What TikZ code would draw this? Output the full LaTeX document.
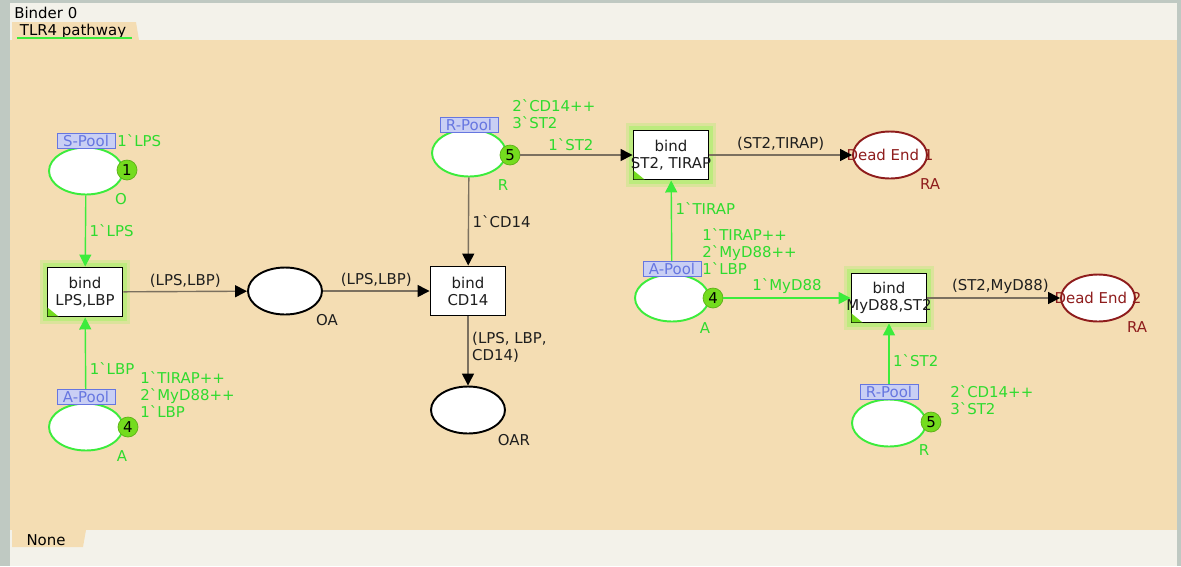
\documentclass[tikz,border=0pt]{standalone}
\usepackage{fontspec}
\setmainfont{DejaVu Sans}
\usepackage{tikz}
\usetikzlibrary{
  arrows.meta,
  positioning,
  shapes.geometric,
  backgrounds
}
\definecolor{CanvasTan}{HTML}{F4DDB3}
\definecolor{ChromeGray}{HTML}{BFC9C2}
\definecolor{ChromeLight}{HTML}{F3F2EA}
\definecolor{PoolGreen}{HTML}{3CEC3C}
\definecolor{InscrGreen}{HTML}{2EDB2E}
\definecolor{TokenGreen}{HTML}{74DC1E}
\definecolor{GlowGreen}{HTML}{BDEB7E}
\definecolor{TagFill}{HTML}{C9CFF4}
\definecolor{TagBlue}{HTML}{6676E0}
\definecolor{ArcGray}{HTML}{7B705F}
\definecolor{DeadRed}{HTML}{8E1C1C}
\definecolor{TextDark}{HTML}{1E1E1E}
\newcommand{\bkq}{\textasciigrave}
\tikzset{
  place/.style={
    ellipse,
    draw=black,
    line width=1.1pt,
    fill=white,
    minimum width=1.48cm,
    minimum height=0.94cm,
    inner sep=0pt
  },
  pool/.style={
    place,
    draw=PoolGreen
  },
  deadend/.style={
    place,
    draw=DeadRed,
    text=DeadRed
  },
  transbox/.style={
    draw=black,
    line width=1.1pt,
    fill=white,
    minimum width=1.5cm,
    minimum height=0.98cm,
    inner sep=0pt,
    align=center,
    text=TextDark
  },
  enabled/.style={
    transbox,
    preaction={draw=GlowGreen!45!CanvasTan, line width=9pt},
    preaction={draw=GlowGreen, line width=5pt}
  },
  tokencount/.style={
    circle,
    fill=TokenGreen,
    draw=TokenGreen!80!black,
    minimum size=0.4cm,
    inner sep=0pt
  },
  pooltag/.style={
    draw=TagBlue,
    fill=TagFill,
    text=TagBlue,
    inner xsep=1.5pt,
    inner ysep=0pt,
    minimum height=0.3cm,
    minimum width=1.16cm
  },
  initmark/.style={
    text=InscrGreen,
    align=left,
    inner sep=0pt
  },
  inscription/.style={
    text=TextDark,
    inner sep=2pt,
    align=left
  },
  greeninscription/.style={
    inscription,
    text=InscrGreen
  },
  placename/.style={
    inner sep=0pt
  },
  arcline/.style={
    draw=ArcGray,
    thick,
    -{Triangle[length=2.4mm, width=2.4mm, color=black]}
  },
  greenarc/.style={
    draw=PoolGreen,
    thick,
    -{Triangle[length=2.4mm, width=2.4mm, color=PoolGreen]}
  }
}

\begin{document}
\begin{tikzpicture}[x=0.02cm, y=-0.02cm, font=\fontsize{8.5}{9.6}\selectfont]

  \useasboundingbox (0,0) rectangle (1181,566);

  % window and page
  \fill[ChromeGray] (0,0) rectangle (1181,566);
  \fill[ChromeLight] (10,3) rectangle (1177,566);
  \fill[CanvasTan] (10,40) rectangle (1177,530);
  \node[anchor=west, inner sep=0pt] (binder) at (14,13) {Binder 0};
  \fill[CanvasTan] (12,22) -- (136,22) -- (139,40) -- (12,40) -- cycle;
  \node[inner sep=0pt] (pagetab) at (73,31) {TLR4 pathway};
  \draw[PoolGreen, line width=1.2pt] (17,38) -- (132,38);
  \fill[CanvasTan] (12,530) -- (86,530) -- (83,547) -- (12,547) -- cycle;
  \node[inner sep=0pt] (statustab) at (46,540) {None};

  % places
  \node[pool] (O) at (86,171) {};
  \node[pool] (A1) at (86,427) {};
  \node[place] (OA) at (285,291) {};
  \node[pool] (R1) at (469,153) {};
  \node[place] (OAR) at (468,410) {};
  \node[pool] (A2) at (672,298) {};
  \node[pool] (R2) at (889,423) {};
  \node[deadend] (DE1) at (890,155) {\makebox[0pt]{Dead End 1}};
  \node[deadend] (DE2) at (1098,298) {\makebox[0pt]{Dead End 2}};

  % transitions
  \node[enabled] (bLPS) at (85,292) {bind\\LPS,LBP};
  \node[transbox] (bCD) at (468,291) {bind\\CD14};
  \node[enabled] (bST) at (671,155) {bind\\\makebox[0pt]{ST2, TIRAP}};
  \node[enabled] (bMy) at (889,298) {bind\\\makebox[0pt]{MyD88,ST2}};
  \foreach \t in {bLPS,bST,bMy}
    \fill[TokenGreen] ([shift={(1,-1)}]\t.south west) -- ++(11,0) -- ++(-11,-9) -- cycle;

  % token counts
  \node[tokencount] (tO) at (127,170) {1};
  \node[tokencount] (tA1) at (128,427) {4};
  \node[tokencount] (tR1) at (510,155) {5};
  \node[tokencount] (tA2) at (713,298) {4};
  \node[tokencount] (tR2) at (931,422) {5};

  % arcs
  \draw[greenarc] (O) -- node[greeninscription, right] (iO) {1\bkq LPS} (bLPS);
  \draw[greenarc] (A1) -- node[greeninscription, right, pos=0.4] (iA1) {1\bkq LBP} (bLPS);
  \draw[arcline] (bLPS) -- node[inscription, above] (iLPS) {(LPS,LBP)} (OA);
  \draw[arcline] (OA) -- node[inscription, above] (iOA) {(LPS,LBP)} (bCD);
  \draw[arcline] (R1) -- node[inscription, right] (iR1) {1\bkq CD14} (bCD);
  \draw[arcline] (bCD) -- node[inscription, right, pos=0.45] (iCD) {(LPS, LBP,\\CD14)} (OAR);
  \draw[arcline] (tR1) -- node[greeninscription, above, pos=0.45] (iST) {1\bkq ST2} (bST);
  \draw[arcline] (bST) -- node[inscription, above] (iTIR) {(ST2,TIRAP)} (DE1);
  \draw[greenarc] (A2) -- node[greeninscription, right, pos=0.7] (iA2) {1\bkq TIRAP} (bST);
  \draw[greenarc] (tA2) -- node[greeninscription, above, pos=0.5] (iMy) {1\bkq MyD88} (bMy);
  \draw[arcline] (bMy) -- node[inscription, above, pos=0.55] (iMyD) {(ST2,MyD88)} (DE2);
  \draw[greenarc] (R2) -- node[greeninscription, right] (iR2) {1\bkq ST2} (bMy);

  % fusion tags
  \node[pooltag] (tagO) at (86,141) {S-Pool};
  \node[pooltag] (tagA1) at (86,397) {A-Pool};
  \node[pooltag] (tagR1) at (469,125) {R-Pool};
  \node[pooltag] (tagA2) at (672,269) {A-Pool};
  \node[pooltag] (tagR2) at (889,392) {R-Pool};

  % initial markings
  \node[initmark, anchor=west] (mO) at (117,141) {1\bkq LPS};
  \node[initmark, anchor=north west] (mA1) at (140,371) {1\bkq TIRAP++\\2\bkq MyD88++\\1\bkq LBP};
  \node[initmark, anchor=north west] (mR1) at (512,99) {2\bkq CD14++\\3\bkq ST2};
  \node[initmark, anchor=north west] (mA2) at (702,228) {1\bkq TIRAP++\\2\bkq MyD88++\\1\bkq LBP};
  \node[initmark, anchor=north west] (mR2) at (950,385) {2\bkq CD14++\\3\bkq ST2};

  % colour sets
  \node[placename, text=InscrGreen] (cO) at (121,199) {O};
  \node[placename, text=InscrGreen] (cA1) at (122,456) {A};
  \node[placename, text=TextDark] (cOA) at (327,320) {OA};
  \node[placename, text=InscrGreen] (cR1) at (503,185) {R};
  \node[placename, text=TextDark] (cOAR) at (514,440) {OAR};
  \node[placename, text=InscrGreen] (cA2) at (705,328) {A};
  \node[placename, text=InscrGreen] (cR2) at (924,450) {R};
  \node[placename, text=DeadRed] (cDE1) at (930,184) {RA};
  \node[placename, text=DeadRed] (cDE2) at (1137,327) {RA};

\end{tikzpicture}
\end{document}
